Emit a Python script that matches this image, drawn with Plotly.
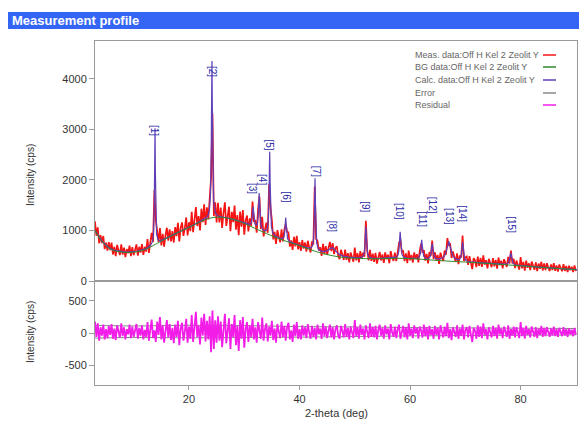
import numpy as np
import plotly.graph_objects as go

# ---------------- data ----------------
# background control points (2-theta deg, cps)
bg_theta = [3, 4, 5, 6, 8, 10, 12, 14, 16, 18, 20, 22, 24, 26, 28, 30, 32, 34, 36, 38,
            40, 42, 44, 46, 48, 50, 54, 58, 62, 66, 70, 75, 80, 85, 90]
bg_cps = [1000, 820, 700, 620, 570, 570, 620, 730, 850, 960, 1060, 1170, 1250, 1260, 1220,
          1140, 1040, 940, 850, 770, 700, 620, 550, 500, 465, 450, 440, 450, 430, 400,
          375, 340, 300, 260, 225]

# fitted peaks: position (deg), height above background (cps), half width (deg)
peak_theta = [13.85, 24.15, 31.6, 32.7, 34.6, 37.5, 42.8, 45.9, 52.0, 58.2, 62.1, 64.0, 67.0, 69.5, 78.2]
peak_height = [2330, 3130, 400, 720, 1640, 460, 1430, 160, 625, 520, 380, 315, 380, 380, 240]
peak_hwhm = [0.09, 0.11, 0.15, 0.13, 0.11, 0.13, 0.11, 0.8, 0.13, 0.14, 0.15, 0.17, 0.45, 0.16, 0.2]

# peak labels
label_text = ["[1]", "[2]", "[3]", "[4]", "[5]", "[6]", "[7]", "[8]", "[9]", "[10]",
              "[11]", "[12]", "[13]", "[14]", "[15]"]
label_theta = [13.85, 24.15, 31.6, 33.2, 34.6, 37.7, 43.0, 45.9, 52.0, 58.2, 62.1, 64.0, 67.0, 69.5, 78.2]
label_cps = [2970, 4140, 1840, 2000, 2690, 1660, 2180, 1090, 1465, 1386, 1230, 1505, 1270, 1330, 1110]

# residual (meas - calc), cps, scan step 0.25 deg from 3.0 deg
residual_cps = [
    180, -60, 150, -120, 90, -40, 130, -100, 60,
    -80, 110, -30, 140, -90, 70, -110, 120, 20, -70,
    150, -50, 90, -100, 60, -20, 130, -80, 100, -60,
    40, 140, -90, 80, -40, 120, -100, 50,
    -60, 170, -120, 90, 210, -80, 40, -140, 180, -30,
    250, -100, 120, -150, 60, 200, -70, 140, -110, 80,
    -160, 130, -60, 190, -190, 70, 160, -120, 20, 220, -150, 100,
    -90, 280, -140, 170, 330, -60, 120, -180, 240, -40,
    300, -130, 190, -100, 260,
    -300, 350, -250, 200, -150,
    260, -120, 180, -220, 90, 300, -160, 40, 230, -250,
    140, -60, 280, -190, 110, -280, 200, -90, 250, -230,
    60, 170,
    -140, 120, -60, 220, -100, 90, -150, 170, 30, -90,
    240, -120, 60, 150, -130, 100, -40, 190, -110, 70,
    -150, 140, 20, -80, 180, -60, 110, -120, 90, 160,
    -100, 40, -140, 130, -50, 170, -90, 60,
    -100, 120, -40, 90, -80, 140, 10, -90, 110, -60,
    80, -100, 130, -20, 70, -90, 150, -50, 100, -80,
    40, 130, -70, 90, -100, 60, 120, -40, -90, 110,
    30, -70, 140, -60, 80, -100, 100, 0, -80, 200,
    -50, 90, -90, 130, -30, 70, -100, 120, 20, -80,
    150, -60, 90, -70, 110, -100, 50, 130, -40, 80,
    -90, 120, -20, 70, -100, 140, 10, -60, 100, -80,
    60, 130, -90, 30, 110, -70, 90, -100, 150, -40,
    70, -80, 120, -10, 80, -90, 100, 40, -70, 130,
    -50, 90, -100, 110, -30, 60,
    -90, 110, -30, 80, -100, 120, 20, -70, 100, -50,
    160, -80, 60, -110, 90, 30, -60, 120, -90, 70,
    -40, 130, -100, 50, 90, -70, 110, -20, -140, 80,
    40, -90, 120, -60, 100, -80, 150, -30, 60, -100,
    90, 10, -70, 110, -50, 80, -90, 130, -20, 70,
    -80, 100, 30, -60, 120, -90, 60, -40, 100, -70,
    90, 0, -80, 170, -50, 80, -90, 110, -30, 60,
    -70, 100, 20, -60, 90, -80, 70, -30, 110, -60,
    80, -50, 90, 10, -60, 70, -40, 100, -50, 60,
    -60, 80, 0, -50, 90, -40, 60, -60, 70, -20,
    50, -50, 80, -30,
]

# error envelope
err_theta = [3, 10, 20, 30, 40, 50, 60, 70, 80, 90]
err_upper = [120, 110, 120, 115, 100, 95, 85, 80, 75, 70]
err_lower = [-80, -70, -75, -70, -65, -55, -45, -40, -35, -30]

legend_names = ["Meas. data:Off H Kel 2 Zeolit Y", "BG data:Off H Kel 2 Zeolit Y",
                "Calc. data:Off H Kel 2 Zeolit Y", "Error", "Residual"]
x_ticks = [20, 40, 60, 80]
y_ticks = [0, 1000, 2000, 3000, 4000]
y2_ticks = [-500, 0, 500]
y2_ticktext = ["-500", "0", "500"]

# ---------------- model ----------------
def calc_profile(x):
    y = np.interp(x, bg_theta, bg_cps)
    for p, h, w in zip(peak_theta, peak_height, peak_hwhm):
        y = y + h / (1.0 + ((x - p) / w) ** 2)
    return y

theta = 3.0 + 0.25 * np.arange(len(residual_cps))
theta_fine = np.arange(3.0, 90.2001, 0.02)
calc_fine = calc_profile(theta_fine)
meas = calc_profile(theta) + np.array(residual_cps)

C_MEAS = "#f41414"
C_BG = "#2e8b2e"
C_CALC = "#5f3fb8"
C_ERR = "#8a8a8a"
C_RES = "#f21ee8"
FONT = "Liberation Sans, Arial, sans-serif"

fig = go.Figure()
fig.add_trace(go.Scatter(x=theta, y=meas, mode="lines", line=dict(color=C_MEAS, width=1.7),
                         xaxis="x", yaxis="y", showlegend=False))
fig.add_trace(go.Scatter(x=theta_fine, y=calc_fine, mode="lines", line=dict(color=C_CALC, width=1.2),
                         xaxis="x", yaxis="y", showlegend=False))
fig.add_trace(go.Scatter(x=bg_theta, y=bg_cps, mode="lines", line=dict(color=C_BG, width=1, shape="spline"),
                         xaxis="x", yaxis="y", showlegend=False))
fig.add_trace(go.Scatter(x=err_theta + [None] + err_theta, y=err_upper + [None] + err_lower, mode="lines",
                         line=dict(color=C_ERR, width=1, shape="spline"), xaxis="x2", yaxis="y2",
                         showlegend=False))
fig.add_trace(go.Scatter(x=theta, y=residual_cps, mode="lines", line=dict(color=C_RES, width=1.8),
                         xaxis="x2", yaxis="y2", showlegend=False))

split = 104 / 344
axis_common = dict(showline=True, mirror=True, linecolor="#9a9a9a", linewidth=1,
                   showgrid=False, zeroline=False, tickfont=dict(size=11, color="#333", family=FONT))

# page body has an 8 px margin; screen px -> paper coords
OFF = 8
def px_x(px):
    return (px - 95) / 482

def px_y(py):
    return (385 - py) / 344

annotations = []
for t, xv, yv in zip(label_text, label_theta, label_cps):
    annotations.append(dict(x=xv, y=yv, xref="x", yref="y", text=t, textangle=90, showarrow=False,
                            xanchor="center", yanchor="middle",
                            font=dict(size=10, color="#2b2ba8", family=FONT)))

annotations.append(dict(x=px_x(10), y=px_y(20.5), xref="paper", yref="paper", xanchor="left",
                        yanchor="middle", text="<b>Measurement profile</b>", showarrow=False,
                        font=dict(size=13, color="white", family=FONT)))
annotations.append(dict(x=px_x(30), y=px_y(175), xref="paper", yref="paper", text="Intensity (cps)",
                        xanchor="center", yanchor="middle",
                        textangle=-90, showarrow=False, font=dict(size=10, color="#333", family=FONT)))
annotations.append(dict(x=px_x(30), y=px_y(332), xref="paper", yref="paper", text="Intensity (cps)",
                        xanchor="center", yanchor="middle",
                        textangle=-90, showarrow=False, font=dict(size=10, color="#333", family=FONT)))
annotations.append(dict(x=px_x(336), y=px_y(413), xref="paper", yref="paper", text="2-theta (deg)",
                        xanchor="center", yanchor="middle",
                        showarrow=False, font=dict(size=11, color="#333", family=FONT)))

legend_rows = [55, 67, 80, 93, 105]
legend_colors = [C_MEAS, C_BG, C_CALC, C_ERR, C_RES]
shapes = [dict(type="rect", xref="paper", yref="paper", x0=px_x(8), x1=px_x(590),
               y0=px_y(29), y1=px_y(12), fillcolor="#3465f4", line=dict(width=0))]
for name, row, col in zip(legend_names, legend_rows, legend_colors):
    annotations.append(dict(x=px_x(413), y=px_y(row), xref="paper", yref="paper", xanchor="left",
                            yanchor="middle", text=name, showarrow=False,
                            font=dict(size=9, color="#666", family=FONT)))
    shapes.append(dict(type="line", xref="paper", yref="paper", x0=px_x(543), x1=px_x(556),
                       y0=px_y(row), y1=px_y(row), line=dict(color=col, width=1.5)))

fig.update_layout(
    width=587 - OFF, height=421 - OFF,
    margin=dict(l=95 - OFF, r=10, t=41 - OFF, b=36),
    paper_bgcolor="white", plot_bgcolor="white",
    font=dict(family=FONT),
    showlegend=False,
    xaxis=dict(domain=[0, 1], anchor="y", range=[3, 90.2], showticklabels=False, ticks="", **axis_common),
    xaxis2=dict(domain=[0, 1], anchor="y2", matches="x", range=[3, 90.2], tickvals=x_ticks,
                ticks="outside", ticklen=4, tickcolor="#9a9a9a", **axis_common),
    yaxis=dict(domain=[split, 1], anchor="x", range=[0, 4752], tickvals=y_ticks,
               ticks="outside", ticklen=5, tickcolor="#9a9a9a", **axis_common),
    yaxis2=dict(domain=[0, split], anchor="x2", range=[-812, 812], tickvals=y2_ticks, ticktext=y2_ticktext,
                ticks="outside", ticklen=5, tickcolor="#9a9a9a", **axis_common),
    annotations=annotations,
    shapes=shapes,
)

fig.write_html("out.html", config={"displayModeBar": False})
